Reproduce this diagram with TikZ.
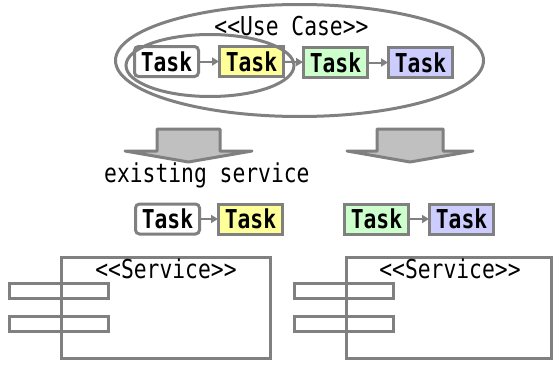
\documentclass[tikz,border=0pt]{standalone}
\usepackage{fontspec}
\newfontfamily\gothic[FakeStretch=0.82]{DejaVu Sans Mono}
\usetikzlibrary{arrows.meta,positioning}
\definecolor{linegray}{RGB}{128,128,128}
\definecolor{shaftgray}{RGB}{192,192,192}
\definecolor{taskyellow}{RGB}{255,255,153}
\definecolor{taskgreen}{RGB}{204,255,204}
\definecolor{taskblue}{RGB}{204,204,255}

\begin{document}
\begin{tikzpicture}[x=1pt,y=-1pt,font=\gothic\fontsize{26}{26}\selectfont,
 task/.style={draw=linegray,line width=3pt,minimum width=64pt,minimum height=30pt,inner sep=0pt,font=\gothic\fontsize{26}{26}\selectfont\bfseries},
 link/.style={-{Triangle[length=7pt,width=8pt]},line width=2pt,draw=linegray,shorten >=-1pt},
 oval/.style={draw=linegray,line width=3pt},
 blockarrow/.style={draw=linegray,fill=shaftgray,line width=3pt,line join=round},
 compbox/.style={draw=linegray,line width=3pt,inner sep=0pt,minimum width=209pt,minimum height=101pt},
 port/.style={draw=linegray,line width=3pt,inner sep=0pt,minimum width=99pt,minimum height=15pt},
 caption/.style={inner sep=0pt}]
\useasboundingbox (0,0) rectangle (558,367);
% use case: four tasks in a row
\node[caption,anchor=base] (usecase) at (291.5,35) {<\kern0pt<Use Case>\kern0pt>};
\node[task,rounded corners=4pt,fill=white] (t1) at (166.5,61.5) {Task};
\node[task,fill=taskyellow] (t2) at (251.5,61.5) {Task};
\node[task,fill=taskgreen] (t3) at (335.5,62.5) {Task};
\node[task,fill=taskblue] (t4) at (420.5,62.5) {Task};
\draw[link] (t1)--(t2);\draw[link] (t2)--(t3);\draw[link] (t3)--(t4);
\draw[oval] (299.5,60.5) ellipse [x radius=184,y radius=56];
\draw[oval] (210,65.5) ellipse [x radius=84,y radius=31];
% split into two services
\draw[blockarrow] (157,129)--(220,129)--(220,151)--(252,151)--(188.5,162)--(125,151)--(157,151)--cycle;
\draw[blockarrow] (377,129)--(443,129)--(443,151)--(473,151)--(410,162)--(347,151)--(377,151)--cycle;
\node[caption,anchor=base west] (existing) at (104,182) {existing service};
\node[task,rounded corners=4pt,fill=white] (s1) at (167.5,219) {Task};
\node[task,fill=taskyellow] (s2) at (250.5,219) {Task};
\node[task,fill=taskgreen] (s3) at (376.5,219) {Task};
\node[task,fill=taskblue] (s4) at (461.5,219) {Task};
\draw[link] (s1)--(s2);\draw[link] (s3)--(s4);
% service components
\node[compbox] (svcA) at (166,308) {};
\node[caption,anchor=base] (svcAname) at (166,278) {<\kern0pt<Service>\kern0pt>};
\node[port] (a1) at (59,291) {};
\node[port] (a2) at (59,324) {};
\node[compbox,minimum width=205pt] (svcB) at (449,308) {};
\node[caption,anchor=base] (svcBname) at (450,278) {<\kern0pt<Service>\kern0pt>};
\node[port] (b1) at (344,291) {};
\node[port] (b2) at (344,324) {};
\end{tikzpicture}
\end{document}
